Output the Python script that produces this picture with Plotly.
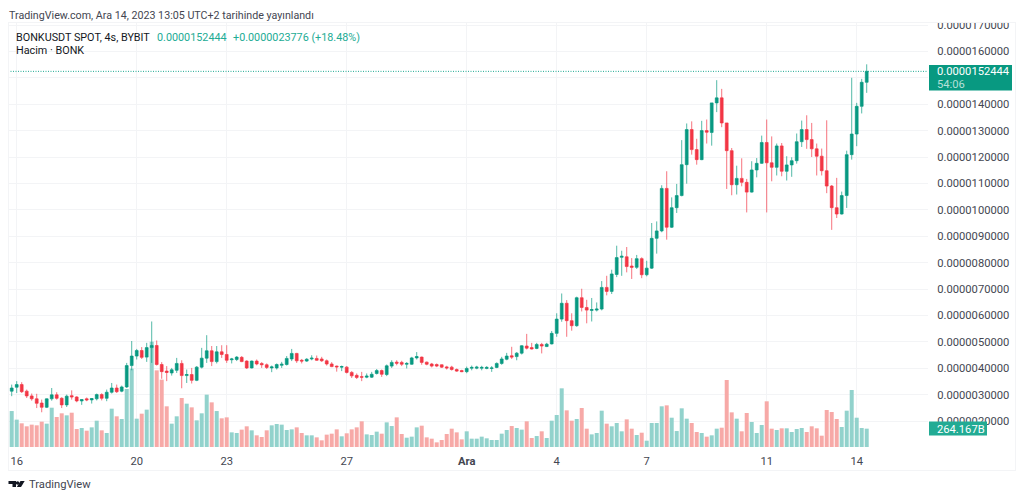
"""
BONKUSDT 4s mum grafigi, hacim cubuklariyla (TradingView gorunumu).
Fiyatlar milyonda bir birimde tutuluyor, eksen yazilari ayrica veriliyor.
"""
import pandas as pd
import plotly.graph_objects as go

# Fiyat (x 1e-6)
opens = [
    3.13, 3.28, 3.38, 3.13, 2.95, 2.84, 2.68, 2.52, 2.84, 2.99, 2.86, 2.61, 2.96, 2.91, 2.76, 2.84, 2.80, 2.84, 3.00, 2.86,
    3.09, 3.25, 3.13, 3.29, 4.10, 4.46, 4.67, 4.42, 4.78, 4.86, 4.14, 3.89, 3.82, 3.92, 4.18, 3.72, 3.76, 3.54, 4.04, 4.38,
    4.66, 4.25, 4.62, 4.52, 4.32, 4.33, 4.41, 4.27, 4.01, 4.27, 4.18, 4.13, 4.01, 4.01, 4.11, 4.14, 4.35, 4.56, 4.30, 4.27,
    4.35, 4.37, 4.35, 4.28, 4.16, 4.08, 4.04, 4.04, 3.84, 3.73, 3.68, 3.66, 3.66, 3.80, 3.91, 3.76, 4.08, 4.23, 4.22, 4.15,
    4.15, 4.39, 4.42, 4.23, 4.16, 4.14, 4.13, 4.05, 4.04, 3.95, 3.91, 3.87, 4.00, 4.00, 4.00, 3.99, 3.99, 4.03, 4.18, 4.34,
    4.47, 4.44, 4.57, 4.84, 4.78, 4.75, 4.90, 4.82, 4.92, 5.32, 5.86, 6.46, 5.80, 5.61, 6.67, 6.30, 6.19, 6.20, 6.24, 7.06,
    6.91, 7.55, 8.20, 8.22, 7.87, 7.82, 8.15, 7.54, 7.79, 8.92, 9.20, 10.81, 9.34, 10.08, 10.54, 11.71, 13.04, 12.28, 11.90, 13.00,
    12.93, 14.05, 14.24, 13.29, 12.24, 10.95, 11.19, 11.04, 10.67, 11.51, 11.76, 12.55, 11.78, 11.61, 12.42, 11.46, 11.70, 11.86, 12.58, 13.04,
    12.66, 12.31, 12.03, 11.48, 10.90, 10.08, 9.84, 10.54, 12.09, 12.87, 13.92, 14.83,
]
highs = [
    3.38, 3.51, 3.47, 3.19, 3.04, 3.03, 2.81, 2.85, 3.25, 3.09, 2.90, 3.00, 3.16, 2.94, 2.82, 2.89, 2.87, 3.04, 3.05, 3.19,
    3.44, 3.38, 3.34, 4.20, 5.03, 4.73, 4.80, 4.96, 5.77, 5.05, 4.23, 4.08, 4.01, 4.39, 4.30, 3.95, 4.01, 4.08, 4.77, 5.25,
    4.84, 4.84, 4.87, 4.87, 4.39, 4.46, 4.46, 4.30, 4.29, 4.33, 4.23, 4.18, 4.10, 4.18, 4.24, 4.46, 4.73, 4.58, 4.35, 4.38,
    4.49, 4.48, 4.43, 4.33, 4.23, 4.10, 4.10, 4.08, 3.89, 3.80, 3.86, 3.80, 3.86, 3.97, 3.95, 4.14, 4.30, 4.30, 4.28, 4.23,
    4.43, 4.61, 4.44, 4.25, 4.20, 4.18, 4.14, 4.09, 4.09, 3.99, 3.94, 4.06, 4.10, 4.09, 4.09, 4.08, 4.08, 4.22, 4.43, 4.58,
    4.81, 4.61, 4.87, 5.30, 4.96, 4.96, 4.96, 4.96, 5.41, 6.08, 6.83, 6.58, 6.08, 6.71, 7.01, 6.59, 6.66, 6.49, 7.30, 7.50,
    7.73, 8.64, 8.45, 8.59, 8.17, 8.29, 8.20, 8.07, 9.50, 9.56, 10.93, 11.46, 10.47, 10.98, 12.64, 13.27, 13.35, 12.69, 13.37, 13.42,
    14.05, 14.91, 14.58, 13.29, 12.34, 11.67, 11.95, 11.17, 11.84, 11.96, 12.81, 13.42, 12.78, 12.51, 12.53, 12.03, 11.99, 12.89, 13.38, 13.58,
    13.29, 12.51, 12.32, 13.39, 10.94, 11.21, 10.69, 12.24, 15.00, 14.05, 14.96, 15.51,
]
lows = [
    2.94, 3.06, 3.06, 2.87, 2.77, 2.49, 2.33, 2.49, 2.77, 2.81, 2.49, 2.53, 2.81, 2.71, 2.61, 2.75, 2.66, 2.78, 2.78, 2.75,
    3.04, 3.06, 3.09, 3.25, 3.92, 4.33, 4.35, 4.24, 4.20, 4.10, 3.60, 3.51, 3.72, 3.82, 3.24, 3.44, 3.42, 3.51, 3.99, 4.20,
    4.08, 4.18, 4.39, 4.20, 4.18, 4.27, 4.23, 3.97, 3.99, 4.11, 4.01, 3.97, 3.85, 3.95, 4.01, 4.10, 4.27, 4.20, 4.18, 4.24,
    4.30, 4.28, 4.24, 4.10, 4.04, 3.87, 3.89, 3.80, 3.63, 3.59, 3.51, 3.62, 3.63, 3.76, 3.67, 3.70, 4.01, 4.11, 4.08, 3.99,
    4.13, 4.33, 4.13, 4.11, 4.03, 4.04, 4.01, 3.95, 3.91, 3.86, 3.85, 3.81, 3.92, 3.96, 3.92, 3.96, 3.86, 4.00, 4.13, 4.30,
    4.35, 4.30, 4.52, 4.71, 4.71, 4.72, 4.56, 4.80, 4.90, 5.19, 5.76, 5.19, 5.42, 5.57, 6.15, 5.70, 5.77, 6.15, 6.19, 6.76,
    6.81, 7.45, 7.50, 7.63, 7.38, 7.76, 7.41, 7.48, 7.76, 8.34, 9.15, 8.87, 9.31, 9.88, 10.51, 10.99, 12.09, 11.71, 11.88, 12.51,
    12.43, 13.70, 13.13, 10.79, 10.55, 10.58, 10.89, 9.90, 10.65, 11.23, 11.74, 9.90, 11.08, 11.30, 11.27, 11.11, 11.25, 11.75, 12.38, 12.31,
    12.00, 11.30, 11.30, 10.63, 9.24, 9.69, 9.82, 10.07, 11.90, 12.41, 13.65, 14.43,
]
closes = [
    3.25, 3.38, 3.11, 2.95, 2.84, 2.67, 2.52, 2.84, 2.99, 2.86, 2.61, 2.94, 2.91, 2.76, 2.81, 2.80, 2.85, 3.00, 2.86, 3.09,
    3.25, 3.11, 3.29, 4.10, 4.46, 4.67, 4.41, 4.78, 4.86, 4.14, 3.87, 3.84, 3.94, 4.18, 3.72, 3.76, 3.54, 4.04, 4.38, 4.66,
    4.25, 4.62, 4.52, 4.30, 4.35, 4.42, 4.25, 4.01, 4.27, 4.16, 4.13, 4.03, 4.05, 4.14, 4.15, 4.37, 4.56, 4.28, 4.27, 4.34,
    4.38, 4.30, 4.28, 4.16, 4.06, 4.05, 4.06, 3.84, 3.71, 3.65, 3.66, 3.70, 3.77, 3.91, 3.77, 4.09, 4.22, 4.19, 4.15, 4.18,
    4.39, 4.44, 4.22, 4.15, 4.08, 4.08, 4.04, 4.01, 3.95, 3.89, 3.87, 3.99, 4.03, 4.04, 4.03, 4.03, 4.01, 4.18, 4.35, 4.46,
    4.42, 4.57, 4.85, 4.76, 4.73, 4.90, 4.84, 4.91, 5.32, 5.86, 6.46, 5.80, 5.61, 6.67, 6.30, 6.20, 6.22, 6.24, 7.06, 6.91,
    7.57, 8.19, 8.24, 7.85, 7.82, 8.15, 7.54, 7.79, 8.92, 9.20, 10.81, 9.34, 10.08, 10.54, 11.71, 13.04, 12.28, 11.90, 13.00, 12.94,
    14.05, 14.24, 13.29, 12.24, 10.95, 11.19, 11.04, 10.67, 11.51, 11.76, 12.55, 11.78, 11.61, 12.42, 11.46, 11.70, 11.86, 12.58, 13.04, 12.66,
    12.31, 12.03, 11.48, 10.90, 10.08, 9.84, 10.54, 12.09, 12.87, 13.92, 14.83, 15.2444,
]
# Hacim (milyar)
volumes = [
    518, 394, 341, 298, 322, 312, 365, 336, 566, 432, 485, 456, 494, 259, 274, 235, 283, 379, 240, 202,
    552, 442, 403, 835, 1128, 408, 480, 538, 1517, 1104, 970, 586, 336, 442, 706, 624, 571, 384, 485, 754,
    643, 518, 413, 427, 211, 202, 250, 298, 240, 168, 144, 240, 312, 331, 322, 245, 254, 283, 202, 168,
    168, 139, 96, 178, 192, 254, 154, 197, 254, 283, 370, 182, 173, 221, 192, 355, 302, 427, 187, 134,
    149, 283, 307, 139, 120, 67, 101, 187, 264, 211, 110, 226, 120, 120, 149, 125, 101, 101, 192, 245,
    302, 274, 250, 370, 130, 158, 226, 130, 379, 461, 845, 528, 379, 403, 562, 264, 182, 202, 523, 336,
    298, 346, 226, 398, 264, 173, 206, 91, 346, 346, 586, 600, 422, 230, 557, 408, 346, 216, 202, 149,
    168, 264, 278, 965, 499, 408, 226, 490, 360, 202, 317, 658, 264, 245, 269, 269, 216, 259, 274, 216,
    298, 269, 163, 533, 504, 403, 288, 523, 821, 422, 274, 264.167,
]

tick_dates = ['2023-11-16', '2023-11-20', '2023-11-23', '2023-11-27', '2023-12-01',
              '2023-12-04', '2023-12-07', '2023-12-11', '2023-12-14']
tick_labels = ['16', '20', '23', '27', '<b>Ara</b>', '4', '7', '11', '14']
price_ticks = [2, 3, 4, 5, 6, 7, 8, 9, 10, 11, 12, 13, 14, 15, 16, 17]
price_labels = ['0.00000%d0000' % p if p < 10 else '0.0000%d0000' % p for p in price_ticks]

UP = '#089981'
DOWN = '#f23645'
UP_VOL = '#92d2cc'
DOWN_VOL = '#f7a9a7'
GRID = '#f3f4f6'
FONT = 'Roboto'

# plot alani piksel olarak: x 8-928, y 23-447
L, R, T, B = 8, 928, 23, 447


def px(x):
    return (x - L) / (R - L)


def py(y):
    return (B - y) / (B - T)


def box(x0, y0, x1, y1, color):
    return dict(type='rect', xref='paper', yref='paper', x0=px(x0), x1=px(x1), y0=py(y0), y1=py(y1),
                fillcolor=color, line_width=0, layer='above')


def label(x, y, text, color='#131722', size=11, anchor='left'):
    return dict(xref='paper', yref='paper', x=px(x), y=py(y), text=text, showarrow=False, xanchor=anchor,
                yanchor='middle', borderpad=0, font=dict(family=FONT, size=size, color=color))


dates = pd.date_range('2023-11-15 20:00', periods=len(closes), freq='4h')
vol_colors = [UP_VOL if c >= o else DOWN_VOL for o, c in zip(opens, closes)]

fig = go.Figure()
# hacim alttaki eksende, mumlar onun ustune biniyor
fig.add_trace(go.Bar(x=dates, y=volumes, marker=dict(color=vol_colors, line_width=0), yaxis='y'))
fig.add_trace(go.Candlestick(
    x=dates, open=opens, high=highs, low=lows, close=closes, yaxis='y2',
    increasing=dict(line=dict(color=UP, width=0.7), fillcolor=UP),
    decreasing=dict(line=dict(color=DOWN, width=0.7), fillcolor=DOWN),
    whiskerwidth=0,
))

logo = 'M {} {} L {} {} L {} {} L {} {} L {} {} L {} {} Z'.format(
    px(8.5), py(481), px(16), py(481), px(16), py(487), px(12.5), py(487), px(12.5), py(484), px(8.5), py(484))
logo_v = 'M {} {} L {} {} L {} {} L {} {} Z'.format(
    px(20.5), py(481), px(24.7), py(481), px(21), py(487), px(16.8), py(487))

fig.update_layout(
    width=1024,
    height=500,
    margin=dict(l=L, r=1024 - R, t=T, b=500 - B, pad=0),
    paper_bgcolor='white',
    plot_bgcolor='white',
    showlegend=False,
    bargap=0.2,
    boxgap=0.2,
    font=dict(family=FONT, size=11.2, color='#434651'),
    xaxis=dict(
        type='date',
        range=['2023-11-15 17:02', '2023-12-16 09:02'],
        rangeslider=dict(visible=False),
        tickmode='array',
        tickvals=tick_dates,
        ticktext=tick_labels,
        ticks='outside',
        ticklen=4,
        tickcolor='rgba(0,0,0,0)',
        showgrid=True,
        gridcolor=GRID,
        gridwidth=1,
        zeroline=False,
        showline=False,
    ),
    yaxis=dict(range=[0, 6106], visible=False, fixedrange=True),
    yaxis2=dict(
        overlaying='y',
        side='right',
        range=[1.015, 17.076],
        tickmode='array',
        tickvals=price_ticks,
        ticktext=price_labels,
        ticks='outside',
        ticklen=6,
        tickcolor='rgba(0,0,0,0)',
        showgrid=True,
        gridcolor=GRID,
        gridwidth=1,
        zeroline=False,
        showline=False,
    ),
    shapes=[
        # fiyat cizgisi
        dict(type='line', xref='paper', yref='y2', x0=0, x1=1, y0=closes[-1], y1=closes[-1],
             line=dict(color='#1aa890', width=1, dash='1px,1.5px')),
        box(900, 0, 1024, 22, 'white'),
        # cerceve
        box(8, 22, 1016, 23, GRID),
        box(8, 22, 9, 471, GRID),
        box(1015, 22, 1016, 471, GRID),
        box(8, 470, 1016, 471, GRID),
        # etiketler
        box(929, 65, 1012, 90.5, UP),
        box(929, 421.5, 987, 435.5, '#22ab94'),
        # logo
        dict(type='path', xref='paper', yref='paper', path=logo, fillcolor='#131722', line_width=0, layer='above'),
        dict(type='path', xref='paper', yref='paper', path=logo_v, fillcolor='#131722', line_width=0, layer='above'),
        dict(type='circle', xref='paper', yref='paper', x0=px(15.8), x1=px(19.4), y0=py(484.8), y1=py(481.2),
             fillcolor='#131722', line_width=0, layer='above'),
    ],
    annotations=[
        label(8, 15, 'TradingView.com, Ara 14, 2023 13:05 UTC+2 tarihinde yayınlandı', '#434651', 10.7),
        label(15, 37, 'BONKUSDT SPOT, 4s, BYBIT', '#131722', 10.8),
        label(156, 37, '0.0000152444', '#22ab94', 10.8),
        label(232, 37, '+0.0000023776 (+18.48%)', '#22ab94', 10.8),
        label(15, 51, 'Hacim · BONK', '#131722', 10.8),
        label(936, 71.5, '0.0000152444', 'white', 11.2),
        label(936, 84, '54:06', '#b5e0d8', 11.2),
        label(936, 429, '264.167B', 'white', 11.2),
        label(28, 484.5, 'TradingView', '#434651', 11.2),
    ],
)

fig.write_html("out.html", config=dict(displayModeBar=False), post_script="document.body.style.margin='0';")
